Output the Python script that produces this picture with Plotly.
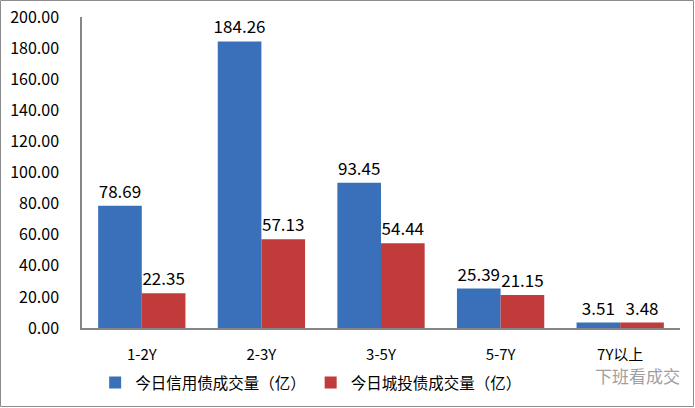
import plotly.graph_objects as go

categories = ["1-2Y", "2-3Y", "3-5Y", "5-7Y", "7Y以上"]
credit = [78.69, 184.26, 93.45, 25.39, 3.51]
chengtou = [22.35, 57.13, 54.44, 21.15, 3.48]
series_names = ["今日信用债成交量（亿）", "今日城投债成交量（亿）"]

FONT = "Noto Sans CJK SC"

fig = go.Figure()
fig.add_trace(go.Bar(x=categories, y=credit, name=series_names[0],
                     marker=dict(color="#3a70ba", line=dict(width=0)),
                     text=[f"{v:.2f}" for v in credit], textposition="outside",
                     constraintext="none",
                     textfont=dict(size=17, color="#000", family=FONT), cliponaxis=False))
fig.add_trace(go.Bar(x=categories, y=chengtou, name=series_names[1],
                     marker=dict(color="#c03b39", line=dict(width=0)),
                     text=[f"{v:.2f}" for v in chengtou], textposition="outside",
                     constraintext="none",
                     textfont=dict(size=17, color="#000", family=FONT), cliponaxis=False))

L, R, T, B = 82, 15, 17, 80
PW, PH = 695 - L - R, 408 - T - B

fig.update_layout(
    width=695, height=408,
    margin=dict(l=L, r=R, t=T, b=B, autoexpand=False),
    paper_bgcolor="white", plot_bgcolor="white",
    barmode="group", bargap=0.27, bargroupgap=0,
    font=dict(family=FONT, size=15, color="#000"),
    showlegend=True,
    legend=dict(orientation="h", x=0.022, xanchor="left",
                yref="container", y=(408 - 383) / 408, yanchor="middle",
                font=dict(size=15.5, family=FONT), tracegroupgap=0,
                traceorder="normal", bgcolor="rgba(0,0,0,0)"),
    xaxis=dict(showline=True, linecolor="#868686", linewidth=1.5, ticks="",
               ticklabelstandoff=12,
               tickfont=dict(size=15, family=FONT), showgrid=False, zeroline=False),
    yaxis=dict(range=[0, 200], dtick=20, tickformat=".2f", showline=True,
               linecolor="#868686", linewidth=1.5, ticks="",
               ticklabelstandoff=18, showgrid=False, zeroline=False,
               tickfont=dict(size=16, family=FONT)),
    shapes=[dict(type="rect", xref="paper", yref="paper",
                 x0=-(L - 0.5) / PW, x1=1 + (R - 1.5) / PW,
                 y0=-(B - 1.5) / PH, y1=1 + (T - 0.5) / PH,
                 line=dict(color="#8c8c8c", width=1))],
    annotations=[dict(text="下班看成交", xref="paper", yref="paper",
                      x=1 + 2 / PW, y=-(375 - 328) / PH,
                      xanchor="right", yanchor="middle", showarrow=False,
                      font=dict(size=17, color="#a0a0a0", family=FONT))],
)

fig.write_html("out.html")
